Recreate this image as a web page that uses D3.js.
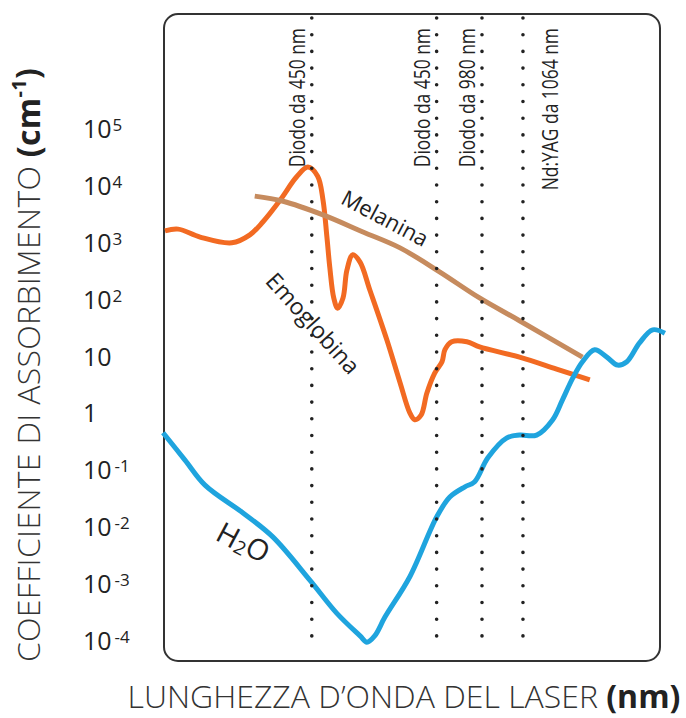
<!DOCTYPE html>
<meta charset="utf-8">
<head>
	<title>Coefficiente di assorbimento</title>
</head>

<style>
body {
	margin: 0;
	background: #fff;
}
svg {
	display: block;
	font-family: "Open Sans", sans-serif;
}
.frame {
	fill: none;
	stroke: #333;
	stroke-width: 2;
}
.curve {
	fill: none;
	stroke-width: 5;
	stroke-linecap: butt;
	stroke-linejoin: round;
}
.laser {
	stroke: #222;
	stroke-width: 3.6;
	stroke-linecap: round;
	stroke-dasharray: 0 16.7;
}
.tick text {
	font-size: 25px;
	fill: #222;
}
</style>

<body>
<svg class="chart" width="686" height="718"></svg>

<script src="https://cdnjs.cloudflare.com/ajax/libs/d3/7.8.5/d3.min.js"></script>
<script>

// x: lunghezza d'onda (nm), y: log10 del coefficiente (cm^-1)
var emoglobina = [
	[330, 3.21], [357, 3.24], [402, 3.10], [467, 3.00], [504, 3.14], [531, 3.37],
	[566, 3.75], [600, 4.16], [623, 4.33], [643, 4.17], [654, 3.75], [662, 3.10],
	[668, 2.56], [676, 2.03], [684, 1.85], [695, 2.03], [703, 2.52], [715, 2.79],
	[730, 2.66], [750, 2.17], [785, 1.29], [812, 0.54], [832, 0.01], [842, -0.11],
	[855, -0.03], [867, 0.36], [883, 0.71], [898, 0.91], [904, 1.12], [918, 1.26],
	[949, 1.26], [975, 1.17], [1057, 0.99], [1133, 0.78], [1201, 0.59]
];

var melanina = [
	[514, 3.82], [572, 3.73], [654, 3.49], [736, 3.19], [812, 2.91], [893, 2.49],
	[975, 2.03], [1057, 1.63], [1186, 0.99]
];

var acqua = [
	[326, -0.34], [371, -0.82], [412, -1.26], [490, -1.75], [551, -2.17], [627, -2.93],
	[682, -3.51], [730, -3.91], [744, -4.02], [760, -3.91], [781, -3.58], [832, -2.87],
	[887, -1.82], [914, -1.47], [945, -1.29], [965, -1.20], [992, -0.78], [1031, -0.43],
	[1057, -0.38], [1092, -0.38], [1125, -0.11], [1145, 0.24], [1166, 0.62], [1186, 0.91],
	[1211, 1.12], [1236, 0.99], [1258, 0.85], [1277, 0.91], [1303, 1.24], [1330, 1.47],
	[1355, 1.41]
];

var lasers = [631, 887, 980, 1064];
var laserLabels = ['Diodo da 450 nm', 'Diodo da 450 nm', 'Diodo da 980 nm', 'Nd:YAG da 1064 nm'];

var exponents = [-4, -3, -2, -1, 0, 1, 2, 3, 4, 5];

// etichette delle curve (nm, log10)
var curveNames = [
	{name: 'Melanina', x: 781, y: 3.43, angle: 28, size: 22},
	{name: 'Emoglobina', x: 633, y: 1.58, angle: 48, size: 23},
	{name: 'H2O', x: 490, y: -2.28, angle: 28, size: 29}
];

var colors = {emoglobina: '#f26a22', melanina: '#c68b5e', acqua: '#1fa4de'};

var svg = d3.select('.chart');

var x = d3.scaleLinear().domain([330, 1345]).range([165, 660]);
var y = d3.scaleLinear().domain([-4, 5]).range([641, 129]);

// cornice
svg.append('rect')
	.attr('class', 'frame')
	.attr('x', 164).attr('y', 14)
	.attr('width', 496).attr('height', 647)
	.attr('rx', 14).attr('ry', 14);

// etichette asse y
var ticks = svg.append('g')
	.selectAll('.tick')
	.data(exponents)
	.enter()
	.append('g')
	.attr('class', 'tick')
	.attr('transform', function(d) { return 'translate(83,' + y(d) + ')'; });

ticks.append('text')
	.attr('dy', '0.36em')
	.each(function(d) {
		var t = d3.select(this);
		if (d === 0) { t.text('1'); return; }
		t.append('tspan').text('10');
		if (d === 1) return;
		t.append('tspan')
			.attr('dx', d < 0 ? 3 : 1)
			.attr('dy', '-0.42em')
			.style('font-size', '17px')
			.text(d < 0 ? '-' + (-d) : d);
	});

// curve
var line = d3.line()
	.x(function(d) { return x(d[0]); })
	.y(function(d) { return y(d[1]); })
	.curve(d3.curveCatmullRom.alpha(0.5));

svg.append('path').datum(emoglobina)
	.attr('class', 'curve').attr('d', line)
	.style('stroke', colors.emoglobina);

svg.append('path').datum(melanina)
	.attr('class', 'curve').attr('d', line)
	.style('stroke', colors.melanina);

svg.append('path').datum(acqua)
	.attr('class', 'curve').attr('d', line)
	.style('stroke', colors.acqua);

// linee laser
svg.append('g')
	.selectAll('line')
	.data(lasers)
	.enter()
	.append('line')
	.attr('class', 'laser')
	.attr('x1', function(d) { return x(d); })
	.attr('x2', function(d) { return x(d); })
	.attr('y1', 18)
	.attr('y2', 648);

// etichette laser, testo stretto (condensed)
svg.append('g')
	.selectAll('text')
	.data(lasers)
	.enter()
	.append('text')
	.attr('transform', function(d, i) {
		var off = i === 3 ? 35 : -7;
		return 'translate(' + (x(d) + off) + ',28) rotate(-90) scale(0.83,1)';
	})
	.attr('text-anchor', 'end')
	.style('font-size', '21px')
	.style('fill', '#222')
	.text(function(d, i) { return laserLabels[i]; });

// nomi delle curve
var names = svg.append('g')
	.selectAll('text')
	.data(curveNames)
	.enter()
	.append('text')
	.attr('transform', function(d) {
		return 'translate(' + x(d.x) + ',' + y(d.y) + ') rotate(' + d.angle + ')';
	})
	.attr('text-anchor', 'middle')
	.attr('dy', '0.35em')
	.style('font-size', function(d) { return d.size + 'px'; })
	.style('fill', '#222');

names.each(function(d) {
	var t = d3.select(this);
	if (d.name === 'H2O') {
		t.append('tspan').text('H');
		t.append('tspan').attr('dy', '0.12em').style('font-size', '19px').text('2');
		t.append('tspan').attr('dy', '-0.12em').text('O');
	} else {
		t.text(d.name);
	}
});

// titoli assi
svg.append('text')
	.attr('x', 404)
	.attr('y', 708)
	.attr('text-anchor', 'middle')
	.style('font-size', '32px')
	.style('font-weight', 300)
	.style('fill', '#333')
	.call(function(t) {
		t.append('tspan').text('LUNGHEZZA D\u2019ONDA DEL LASER ');
		t.append('tspan').style('font-weight', 700).style('fill', '#222').text('(nm)');
	});

svg.append('text')
	.attr('transform', 'translate(40,365) rotate(-90)')
	.attr('text-anchor', 'middle')
	.style('font-size', '32px')
	.style('font-weight', 300)
	.style('letter-spacing', '0.3px')
	.style('fill', '#333')
	.call(function(t) {
		t.append('tspan').text('COEFFICIENTE DI ASSORBIMENTO ');
		t.append('tspan').style('font-weight', 700).style('fill', '#222').text('(cm');
		t.append('tspan').style('font-weight', 700).style('fill', '#222')
			.style('font-size', '20px').attr('dy', '-0.7em').text('-1');
		t.append('tspan').style('font-weight', 700).style('fill', '#222')
			.attr('dy', '0.42em').text(')');
	});

</script>
</body>
</html>
